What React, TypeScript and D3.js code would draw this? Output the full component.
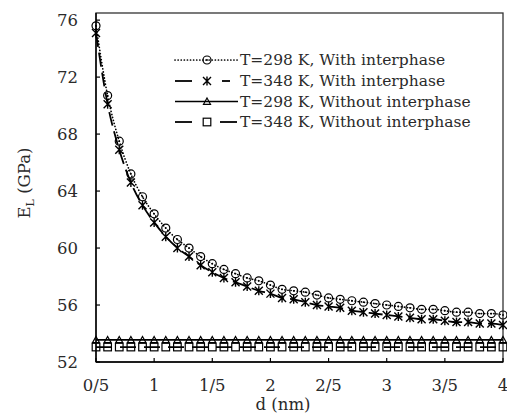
import React from "react";
import * as d3 from "d3";

const dValues = [0.5,0.6,0.7,0.8,0.9,1.0,1.1,1.2,1.3,1.4,1.5,1.6,1.7,1.8,1.9,2.0,2.1,2.2,2.3,2.4,2.5,2.6,2.7,2.8,2.9,3.0,3.1,3.2,3.3,3.4,3.5,3.6,3.7,3.8,3.9,4.0];

const t298With = [75.6,70.7,67.5,65.2,63.6,62.4,61.4,60.6,60.0,59.4,58.9,58.5,58.2,57.9,57.7,57.4,57.1,57.0,56.9,56.7,56.5,56.4,56.3,56.2,56.1,56.0,55.9,55.8,55.7,55.7,55.6,55.5,55.5,55.4,55.4,55.3];
const t348With = [75.1,70.1,66.9,64.6,63.0,61.8,60.8,60.0,59.4,58.8,58.3,57.9,57.6,57.3,57.0,56.8,56.5,56.4,56.2,56.0,55.9,55.8,55.6,55.5,55.4,55.3,55.2,55.1,55.0,55.0,54.9,54.8,54.8,54.7,54.7,54.6];
const t298Without = [53.55,53.55,53.55,53.55,53.55,53.55,53.55,53.55,53.55,53.55,53.55,53.55,53.55,53.55,53.55,53.55,53.55,53.55,53.55,53.55,53.55,53.55,53.55,53.55,53.55,53.55,53.55,53.55,53.55,53.55,53.55,53.55,53.55,53.55,53.55,53.55];
const t348Without = [53.05,53.05,53.05,53.05,53.05,53.05,53.05,53.05,53.05,53.05,53.05,53.05,53.05,53.05,53.05,53.05,53.05,53.05,53.05,53.05,53.05,53.05,53.05,53.05,53.05,53.05,53.05,53.05,53.05,53.05,53.05,53.05,53.05,53.05,53.05,53.05];

const xTicks = [0.5,1,1.5,2,2.5,3,3.5,4];
const xTickLabels = ["0/5","1","1/5","2","2/5","3","3/5","4"];
const yTicks = [52,56,60,64,68,72,76];

const legendLabels = [
  "T=298 K, With interphase",
  "T=348 K, With interphase",
  "T=298 K, Without interphase",
  "T=348 K, Without interphase",
];

const W = 507, H = 414;
const left = 96, right = 503, top = 13, bottom = 362;
const FONT = "'DejaVu Serif', 'Liberation Serif', serif";

type MarkerKind = "circle" | "star" | "triangle" | "square";

function Marker({ kind, x, y }: { kind: MarkerKind; x: number; y: number }) {
  const sw = 1.2;
  if (kind === "circle") {
    return (
      <g>
        <circle cx={x} cy={y} r={4} fill="none" stroke="#000" strokeWidth={sw} />
        <circle cx={x} cy={y} r={0.9} fill="#000" />
      </g>
    );
  }
  if (kind === "star") {
    const s = 4;
    return (
      <path
        d={`M${x - s},${y - s}L${x + s},${y + s}M${x - s},${y + s}L${x + s},${y - s}M${x},${y - s - 0.5}L${x},${y + s + 0.5}`}
        stroke="#000"
        strokeWidth={sw + 0.2}
        fill="none"
      />
    );
  }
  if (kind === "triangle") {
    const s = 3.5;
    return (
      <path
        d={`M${x},${y - s}L${x + s},${y + s * 0.8}L${x - s},${y + s * 0.8}Z`}
        stroke="#000"
        strokeWidth={sw}
        fill="none"
      />
    );
  }
  const s = 3.8;
  return <rect x={x - s} y={y - s} width={2 * s} height={2 * s} stroke="#000" strokeWidth={sw} fill="none" />;
}

const series: { values: number[]; kind: MarkerKind; dash: string; width: number; cap: string }[] = [
  { values: t298With, kind: "circle", dash: "0.1,3", width: 1.7, cap: "round" },
  { values: t348With, kind: "star", dash: "14,6", width: 1.8, cap: "butt" },
  { values: t298Without, kind: "triangle", dash: "", width: 1.6, cap: "butt" },
  { values: t348Without, kind: "square", dash: "16,8", width: 1.8, cap: "butt" },
];

export default function App() {
  const x = d3.scaleLinear().domain([0.5, 4]).range([left, right]);
  const y = d3.scaleLinear().domain([52, 76.5]).range([bottom, top]);

  const line = (vals: number[]) =>
    d3
      .line<number>()
      .x((_, i) => x(dValues[i]))
      .y((v) => y(v))
      .curve(d3.curveMonotoneX)(vals) as string;

  const legendX0 = 175, legendX1 = 238, legendMarkX = 207, legendTextX = 240;
  const legendY = [60, 81, 101.5, 122];

  return (
    <svg width={W} height={H} style={{ position: "absolute", left: 0, top: 0, background: "#fff" }}>
      <rect x={0} y={0} width={W} height={H} fill="#fff" />
      {/* frame */}
      <rect x={left} y={top} width={right - left} height={bottom - top} fill="none" stroke="#333" strokeWidth={1.3} />
      <line x1={left} y1={top} x2={left} y2={bottom} stroke="#000" strokeWidth={1.4} />
      <line x1={left} y1={bottom} x2={right} y2={bottom} stroke="#000" strokeWidth={1.4} />

      {/* y ticks */}
      {yTicks.map((t) => (
        <g key={"y" + t}>
          <line x1={left} x2={left + 4} y1={y(t)} y2={y(t)} stroke="#000" strokeWidth={1.2} />
          <text x={78} y={y(t)} dy="0.36em" textAnchor="end" fontFamily={FONT} fontSize={16.5} fill="#2a2a2a">
            {t}
          </text>
        </g>
      ))}
      {/* x ticks */}
      {xTicks.map((t, i) => (
        <g key={"x" + t}>
          <line x1={x(t)} x2={x(t)} y1={bottom} y2={bottom - 4} stroke="#000" strokeWidth={1.2} />
          <text x={x(t)} y={391} textAnchor="middle" fontFamily={FONT} fontSize={16.5} fill="#2a2a2a">
            {xTickLabels[i]}
          </text>
        </g>
      ))}

      {/* axis titles */}
      <text x={283} y={410} textAnchor="middle" fontFamily={FONT} fontSize={16.5} fill="#2a2a2a">
        d (nm)
      </text>
      <text
        transform={`translate(30,183) rotate(-90)`}
        textAnchor="middle"
        fontFamily={FONT}
        fontSize={16.5}
        fill="#2a2a2a"
      >
        E
        <tspan fontSize={11} dy="4">L</tspan>
        <tspan dy="-4"> (GPa)</tspan>
      </text>

      {/* series lines */}
      {series.map((s, k) => (
        <path
          key={"l" + k}
          d={line(s.values)}
          fill="none"
          stroke="#000"
          strokeWidth={s.width}
          strokeDasharray={s.dash || undefined}
          strokeLinecap={s.cap as any}
        />
      ))}
      {/* markers */}
      {series.map((s, k) => (
        <g key={"m" + k}>
          {s.values.map((v, i) => (
            <Marker key={i} kind={s.kind} x={x(dValues[i])} y={y(v)} />
          ))}
        </g>
      ))}

      {/* legend */}
      {series.map((s, k) => (
        <g key={"lg" + k}>
          {s.kind === "circle" || s.kind === "triangle" ? (
            <line
              x1={legendX0}
              x2={legendX1}
              y1={legendY[k]}
              y2={legendY[k]}
              stroke="#000"
              strokeWidth={s.width}
              strokeDasharray={s.dash || undefined}
              strokeLinecap={s.cap as any}
            />
          ) : (
            <g>
              <line x1={legendX0} x2={legendX0 + 17} y1={legendY[k]} y2={legendY[k]} stroke="#000" strokeWidth={s.width} />
              <line
                x1={s.kind === "star" ? 222 : 220}
                x2={s.kind === "star" ? 230 : 237}
                y1={legendY[k]}
                y2={legendY[k]}
                stroke="#000"
                strokeWidth={s.width}
              />
            </g>
          )}
          <Marker kind={s.kind} x={legendMarkX} y={legendY[k]} />
          <text x={legendTextX} y={legendY[k]} dy="0.35em" fontFamily={FONT} fontSize={15.5} fill="#2a2a2a">
            {legendLabels[k]}
          </text>
        </g>
      ))}
    </svg>
  );
}
